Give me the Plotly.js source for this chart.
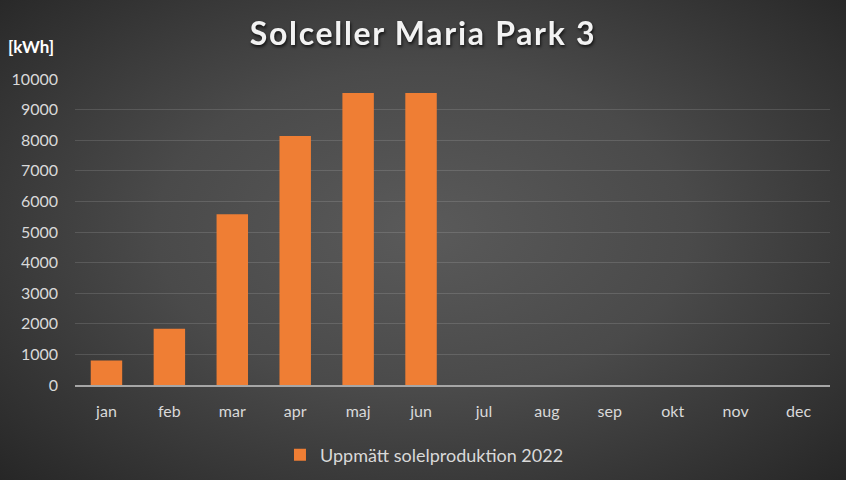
<!DOCTYPE html>
<html><head><meta charset="utf-8">
<script src="https://cdn.plot.ly/plotly-3.0.1.min.js"></script>
<style>
html,body{margin:0;padding:0;}
#bg{position:absolute;left:0;top:0;width:846px;height:480px;
background:radial-gradient(ellipse 70% 75% at 50% 48%, #5a5a5a 0%, #4a4a4a 45%, #303030 85%, #262626 100%);}
#chart{position:absolute;left:0;top:0;width:846px;height:480px;}
#chart .gtitle{letter-spacing:1.7px; filter:drop-shadow(1px 2px 1.5px rgba(0,0,0,0.7));}
</style></head>
<body><div id="bg"></div><div id="chart"></div>
<script>
const months = ['jan','feb','mar','apr','maj','jun','jul','aug','sep','okt','nov','dec'];
const production = [800, 1840, 5580, 8140, 9540, 9540, null, null, null, null, null, null];
const seriesName = 'Uppmätt solelproduktion 2022';
const yTicks = [0,1000,2000,3000,4000,5000,6000,7000,8000,9000,10000];

const trace = {
  type:'bar', x: months, y: production, name: seriesName,
  marker:{color:'#EF7E34', line:{width:0}},
  showlegend:true, hoverinfo:'x+y'
};
const layout = {
  width:846, height:480,
  paper_bgcolor:'rgba(0,0,0,0)', plot_bgcolor:'rgba(0,0,0,0)',
  margin:{l:75, r:16, t:79, b:95, autoexpand:false},
  bargap:0.5,
  font:{family:'Lato, "Open Sans", sans-serif', color:'#d9d9d9', size:16},
  title:{text:'Solceller Maria Park 3', x:0.5, xanchor:'center', y:0.93, yanchor:'middle',
    font:{family:'Lato, "Open Sans", sans-serif', size:32, color:'#f2f2f2', weight:'bold'}},
  xaxis:{type:'category', categoryorder:'array', categoryarray: months,
    showline:true, linecolor:'#a6a6a6', linewidth:2, ticks:'', showgrid:false, zeroline:false,
    tickfont:{size:16, color:'#d9d9d9'}, ticklabelstandoff:11},
  yaxis:{range:[0,10000], tickvals:yTicks, ticktext:yTicks.map(String),
    showgrid:true, gridcolor:'rgba(255,255,255,0.13)', gridwidth:1, zeroline:false,
    showline:false, ticks:'', tickfont:{size:16, color:'#d9d9d9'}, ticklabelstandoff:16},
  legend:{orientation:'h', x:0.2715, xanchor:'left', yref:'container', y:0.052, yanchor:'middle',
    font:{size:18, color:'#d9d9d9'}, bgcolor:'rgba(0,0,0,0)', itemwidth:30},
  annotations:[{text:'<b>[kWh]</b>', xref:'paper', yref:'paper', x:-0.091, y:1.105, xanchor:'left', yanchor:'middle',
    showarrow:false, font:{size:17, color:'#ffffff', family:'Lato, "Open Sans", sans-serif'}}]
};
Plotly.newPlot('chart',[trace],layout,{displayModeBar:false, staticPlot:true});
</script></body></html>
